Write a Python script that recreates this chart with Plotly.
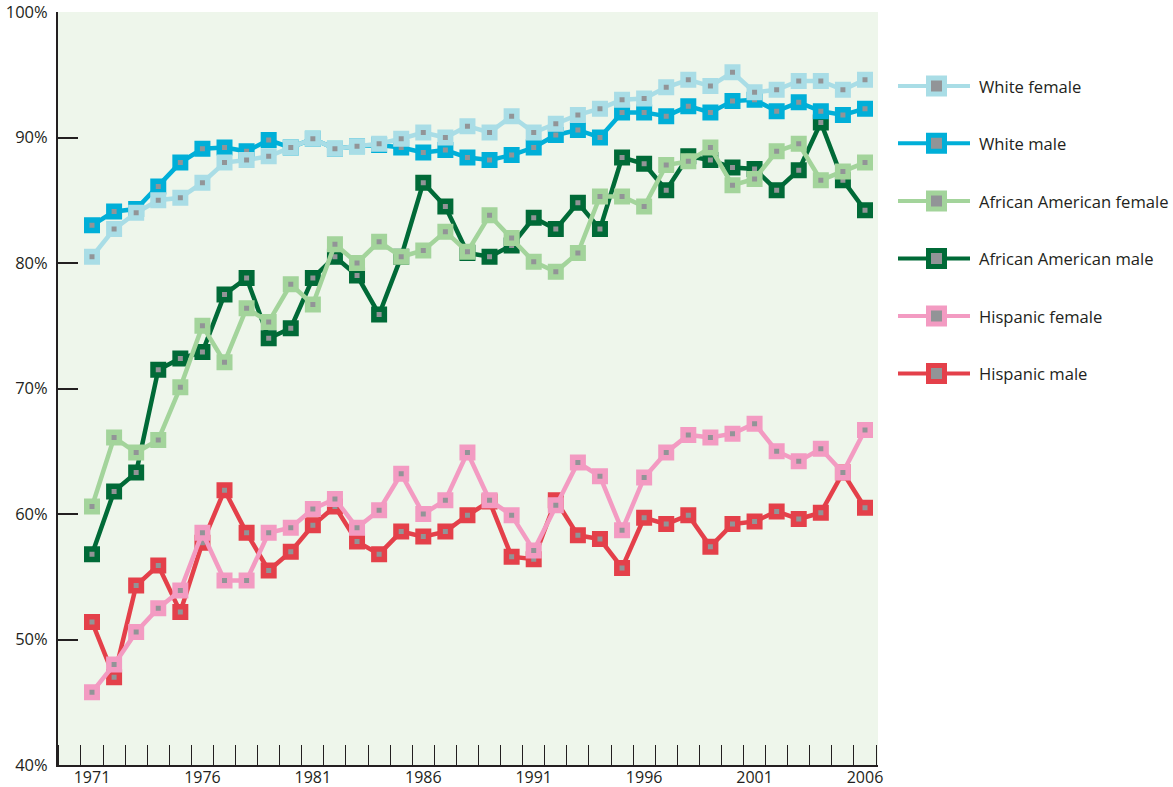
import plotly.graph_objects as go

# ---- data -------------------------------------------------------------
years = list(range(1971, 2007))
tick_years = [1971, 1976, 1981, 1986, 1991, 1996, 2001, 2006]
pct_ticks = [40, 50, 60, 70, 80, 90, 100]
pct_labels = ["40%", "50%", "60%", "70%", "80%", "90%", "100%"]

white_female = [80.5, 82.7, 84.0, 85.0, 85.2, 86.4, 88.0, 88.2, 88.5, 89.2, 89.9, 89.1,
                89.3, 89.5, 89.9, 90.4, 90.0, 90.9, 90.4, 91.7, 90.4, 91.1, 91.8, 92.3,
                93.0, 93.1, 94.0, 94.6, 94.1, 95.2, 93.6, 93.8, 94.5, 94.5, 93.8, 94.6]
white_male = [83.0, 84.1, 84.3, 86.1, 88.0, 89.1, 89.2, 88.9, 89.8, 89.2, 89.9, 89.1,
              89.3, 89.4, 89.2, 88.8, 89.0, 88.4, 88.2, 88.6, 89.2, 90.2, 90.6, 90.0,
              92.0, 92.0, 91.7, 92.5, 92.0, 92.9, 93.0, 92.1, 92.8, 92.1, 91.8, 92.3]
aa_female = [60.6, 66.1, 64.9, 65.9, 70.1, 75.0, 72.1, 76.4, 75.3, 78.3, 76.7, 81.5,
             80.0, 81.7, 80.5, 81.0, 82.5, 80.9, 83.8, 82.0, 80.1, 79.3, 80.8, 85.3,
             85.3, 84.5, 87.8, 88.1, 89.2, 86.2, 86.7, 88.9, 89.5, 86.6, 87.3, 88.0]
aa_male = [56.8, 61.8, 63.3, 71.5, 72.4, 72.9, 77.5, 78.8, 74.0, 74.8, 78.8, 80.5,
           79.0, 75.9, 80.5, 86.4, 84.5, 80.8, 80.5, 81.4, 83.6, 82.7, 84.8, 82.7,
           88.4, 87.9, 85.8, 88.5, 88.2, 87.6, 87.5, 85.8, 87.4, 91.2, 86.6, 84.2]
hisp_female = [45.8, 48.0, 50.6, 52.5, 53.9, 58.5, 54.7, 54.7, 58.5, 58.9, 60.4, 61.2,
               58.9, 60.3, 63.2, 60.0, 61.1, 64.9, 61.1, 59.9, 57.1, 60.7, 64.1, 63.0,
               58.7, 62.9, 64.9, 66.3, 66.1, 66.4, 67.2, 65.0, 64.2, 65.2, 63.3, 66.7]
hisp_male = [51.4, 47.0, 54.3, 55.9, 52.2, 57.7, 61.9, 58.5, 55.5, 57.0, 59.1, 60.6,
             57.8, 56.8, 58.6, 58.2, 58.6, 59.9, 61.0, 56.6, 56.4, 61.1, 58.3, 58.0,
             55.7, 59.7, 59.2, 59.9, 57.4, 59.2, 59.4, 60.2, 59.6, 60.1, 63.3, 60.5]

series_names = ["White female", "White male", "African American female",
                "African American male", "Hispanic female", "Hispanic male"]
series_values = [white_female, white_male, aa_female, aa_male, hisp_female, hisp_male]
series_colors = ["#A9DDE6", "#00AFD8", "#A3D49B", "#006A37", "#F39BC2", "#E4404A"]

# ---- styling ----------------------------------------------------------
W, H = 1173, 787
ML, MT, MB = 58, 12, 22
PLOT_W = W - ML            # whole drawable width (legend lives on the right)
CHART_RIGHT = 878          # right edge of the shaded chart area, px
INK = "#231F20"
CENTER = "#929497"
BG = "#EEF6EB"
FONT = "Open Sans"

fig = go.Figure()

# data lines; the first legend entry is drawn last so it sits on top
for name, vals, col in reversed(list(zip(series_names, series_values, series_colors))):
    fig.add_trace(go.Scatter(
        x=years, y=vals, name=name, mode="lines+markers",
        line=dict(color=col, width=4.5),
        marker=dict(symbol="square", size=10.5, color=CENTER,
                    line=dict(color=col, width=5.5)),
        showlegend=False, cliponaxis=False,
        xaxis="x", yaxis="y",
    ))

# hand-built legend on a pixel-scaled overlay axis pair
legend_y = [86, 143.3, 201, 258.5, 316, 373.5]
for name, col, ly in zip(series_names, series_colors, legend_y):
    fig.add_trace(go.Scatter(
        x=[898, 970], y=[ly, ly], mode="lines",
        line=dict(color=col, width=4), showlegend=False, hoverinfo="skip",
        xaxis="x2", yaxis="y2",
    ))
    fig.add_trace(go.Scatter(
        x=[936.5], y=[ly], mode="markers",
        marker=dict(symbol="square", size=16, color=CENTER,
                    line=dict(color=col, width=5)),
        showlegend=False, hoverinfo="skip", xaxis="x2", yaxis="y2",
    ))
    fig.add_annotation(
        x=977, y=ly, xref="x2", yref="y2", text=name, showarrow=False,
        xanchor="left", yanchor="middle",
        font=dict(family=FONT, size=16.6, color=INK),
    )

px_per_year = (865 - 92) / 35.0
x_lo = 1971 - (92 - ML) / px_per_year
x_hi = 1971 + (CHART_RIGHT - 92) / px_per_year

fig.update_layout(
    width=W, height=H,
    margin=dict(l=ML, r=0, t=MT, b=MB, pad=0, autoexpand=False),
    paper_bgcolor="white", plot_bgcolor="rgba(0,0,0,0)",
    showlegend=False,
    xaxis=dict(
        domain=[0, (CHART_RIGHT - ML) / PLOT_W], range=[x_lo, x_hi],
        automargin=False, ticklabeloverflow="allow",
        showgrid=False, zeroline=False,
        showline=True, linecolor=INK, linewidth=2,
        tickmode="array", tickvals=tick_years, ticktext=[str(y) for y in tick_years],
        ticks="", ticklabelstandoff=-3,
        tickfont=dict(family=FONT, size=16, color=INK),
        minor=dict(tickmode="linear", tick0=1970.5, dtick=1, ticks="inside",
                   ticklen=20, tickwidth=1.3, tickcolor=INK, showgrid=False),
        fixedrange=True,
    ),
    yaxis=dict(
        domain=[0, 1], range=[40, 100],
        automargin=False, ticklabeloverflow="allow",
        showgrid=False, zeroline=False,
        showline=True, linecolor=INK, linewidth=2,
        tickmode="array", tickvals=pct_ticks, ticktext=pct_labels,
        ticks="inside", ticklen=20, tickwidth=1.5, tickcolor=INK,
        ticklabelstandoff=5,
        tickfont=dict(family=FONT, size=16.5, color=INK),
        fixedrange=True,
    ),
    xaxis2=dict(domain=[0, 1], range=[ML, W], anchor="y2", visible=False,
                automargin=False, fixedrange=True),
    yaxis2=dict(domain=[0, 1], range=[H - MB, MT], anchor="x2", visible=False,
                automargin=False, fixedrange=True),
    shapes=[dict(type="rect", xref="x domain", yref="y domain",
                 x0=0, x1=1, y0=0, y1=1, fillcolor=BG, line=dict(width=0),
                 layer="below")],
)

fig.write_html("out.html")
